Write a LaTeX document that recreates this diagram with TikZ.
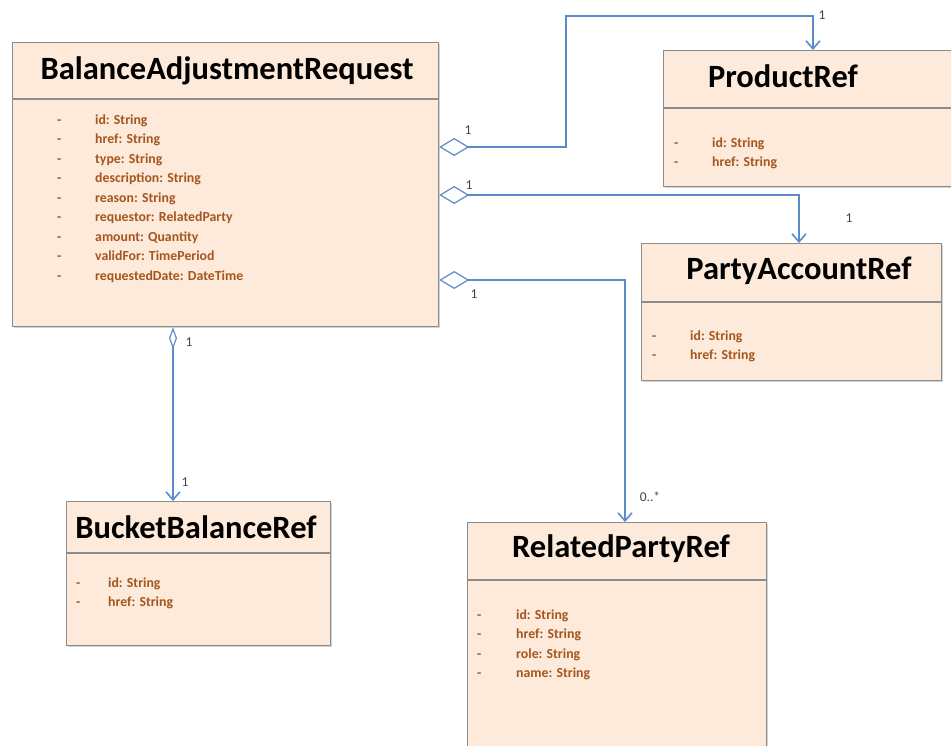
\documentclass[tikz,border=0pt]{standalone}
\usepackage{fontspec}
\setmainfont{Carlito}
\usetikzlibrary{arrows.meta,shadows}
\definecolor{boxfill}{HTML}{FDEADA}
\definecolor{boxline}{HTML}{8C8C8C}
\definecolor{attrc}{HTML}{A5561E}
\definecolor{connc}{HTML}{5B8BC9}
\definecolor{labc}{HTML}{444444}
\newcommand{\attrlist}[2]{\begin{tabular}[t]{@{}p{#1}@{}l@{}}#2\end{tabular}}
\begin{document}
\begin{tikzpicture}[x=1pt,y=-1pt,
  cls/.style={draw=boxline,fill=boxfill,line width=1.2pt,anchor=north west,inner sep=0pt,
    drop shadow={shadow xshift=1.5pt,shadow yshift=-1.5pt,opacity=0.35}},
  divider/.style={draw=boxline,line width=1.2pt},
  ttl/.style={font=\bfseries\fontsize{32.5}{34}\selectfont,text=black,inner sep=0pt},
  att/.style={font=\bfseries\fontsize{13.8}{19.5}\selectfont,text=attrc,anchor=base west,inner sep=0pt},
  conn/.style={draw=connc,line width=1.6pt},
  agg/.style={conn,{Diamond[open,length=30pt,width=18pt,line width=1.2pt]}-{Straight Barb[length=8pt,width=14pt]}},
  mult/.style={font=\fontsize{13.5}{14}\selectfont,text=labc,inner sep=0pt}
]
\useasboundingbox (0,0) rectangle (951,745);

% boxes
\node[cls,minimum width=426pt,minimum height=284pt] (bar) at (12,42) {};
\node[cls,minimum width=300pt,minimum height=136pt] (prod) at (663,50) {};
\node[cls,minimum width=300pt,minimum height=137pt] (pa) at (641,243) {};
\node[cls,minimum width=264pt,minimum height=144pt] (bb) at (66,501) {};
\node[cls,minimum width=299pt,minimum height=240pt] (rp) at (467,522) {};

% dividers
\draw[divider] (bar.west |- 0,99) -- (bar.east |- 0,99);
\draw[divider] (prod.west |- 0,108) -- (prod.east |- 0,108);
\draw[divider] (pa.west |- 0,302) -- (pa.east |- 0,302);
\draw[divider] (bb.west |- 0,553) -- (bb.east |- 0,553);
\draw[divider] (rp.west |- 0,580) -- (rp.east |- 0,580);

% titles
\node[ttl] (tbar) at (227,71) {BalanceAdjustmentRequest};
\node[ttl] (tprod) at (783,76) {ProductRef};
\node[ttl] (tpa) at (799,271) {PartyAccountRef};
\node[ttl] (tbb) at (196,527) {BucketBalanceRef};
\node[ttl] (trp) at (621,549) {RelatedPartyRef};

% attributes
\node[att] (abar) at (57,124) {\attrlist{38pt}{-&id: String\\-&href: String\\-&type: String\\-&description: String\\-&reason: String\\-&requestor: RelatedParty\\-&amount: Quantity\\-&validFor: TimePeriod\\-&requestedDate: DateTime}};
\node[att] (aprod) at (674,147) {\attrlist{38pt}{-&id: String\\-&href: String}};
\node[att] (apa) at (652,340) {\attrlist{38pt}{-&id: String\\-&href: String}};
\node[att] (abb) at (76,587) {\attrlist{32pt}{-&id: String\\-&href: String}};
\node[att] (arp) at (477,619) {\attrlist{39pt}{-&id: String\\-&href: String\\-&role: String\\-&name: String}};

% connector bend points
\coordinate (s1) at (438,147);
\coordinate (b1) at (566,16);
\coordinate (e1) at (813,50);
\coordinate (s2) at (438,195);
\coordinate (e2) at (799,243);
\coordinate (s3) at (438,280);
\coordinate (e3) at (625,522);
\coordinate (s4) at (173,326);
\coordinate (e4) at (173,501);

\draw[agg] (bar.east |- s1) -| (b1) -| (prod.north -| e1);
\draw[agg] (bar.east |- s2) -| (pa.north -| e2);
\draw[agg] (bar.east |- s3) -| (rp.north -| e3);
\draw[conn,{Diamond[open,length=22pt,width=8pt,line width=1.2pt]}-{Straight Barb[length=8pt,width=14pt]}] (bar.south -| s4) -- (bb.north -| e4);

% multiplicities
\node[mult] (m1a) at (468,130) {1};
\node[mult] (m1b) at (822,15) {1};
\node[mult] (m2a) at (469,185) {1};
\node[mult] (m2b) at (849,218) {1};
\node[mult] (m3a) at (474,294) {1};
\node[mult] (m3b) at (650,497) {0..*};
\node[mult] (m4a) at (189,342) {1};
\node[mult] (m4b) at (185,482) {1};
\end{tikzpicture}
\end{document}
